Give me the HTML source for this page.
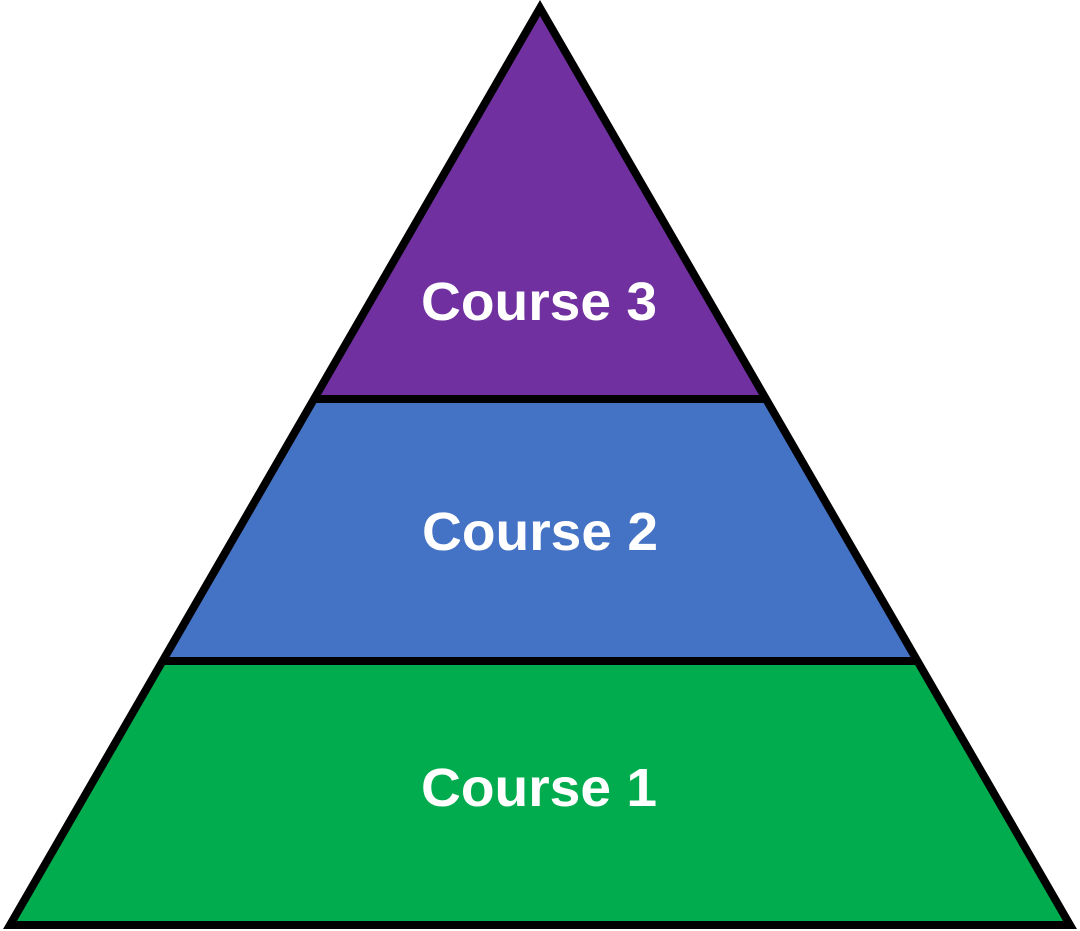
<!DOCTYPE html>
<html><head><meta charset="utf-8"><style>html,body{margin:0;padding:0;background:#fff;}svg{display:block}</style></head>
<body>
<svg width="1080" height="931" viewBox="0 0 1080 931" xmlns="http://www.w3.org/2000/svg">
<polygon points="540,8 314,399 766,399" fill="#7030A0"/>
<polygon points="314,399 766,399 917,661 163,661" fill="#4472C4"/>
<polygon points="163,661 917,661 1070,925 10,925" fill="#00AC4E"/>
<line x1="314" y1="399" x2="766" y2="399" stroke="#000" stroke-width="8"/>
<line x1="163" y1="661" x2="917" y2="661" stroke="#000" stroke-width="8"/>
<polygon points="540,8 1070,925 10,925" fill="none" stroke="#000" stroke-width="8" stroke-linejoin="miter"/>
<g font-family="'Liberation Sans',sans-serif" font-weight="bold" font-size="54" fill="#fff" text-anchor="middle">
<text x="539" y="320" textLength="236" lengthAdjust="spacingAndGlyphs">Course 3</text>
<text x="540" y="550" textLength="236" lengthAdjust="spacingAndGlyphs">Course 2</text>
<text x="539" y="806" textLength="236" lengthAdjust="spacingAndGlyphs">Course 1</text>
</g>
</svg>
</body></html>
